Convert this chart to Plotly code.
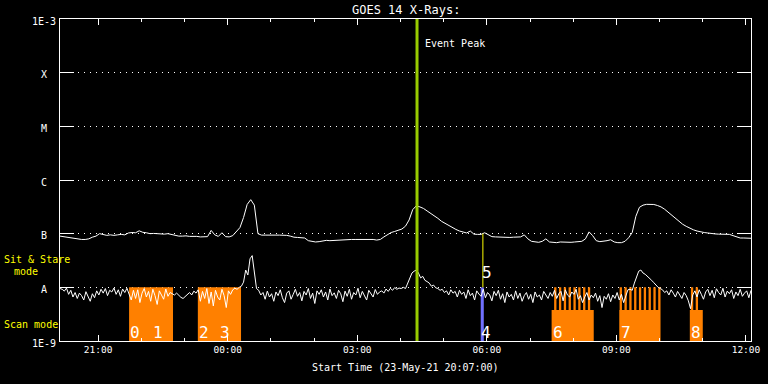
import numpy as np
import pandas as pd
import plotly.graph_objects as go

# ---------------- data ----------------
start_time = "2021-05-23 20:07:00"
end_time = "2021-05-24 12:07:00"

# GOES 1-8 A channel, 5-minute samples, units of 1e-7 W/m^2
long_cadence_min = 5
long_flux_e7 = [
    0.90, 0.88, 0.84, 0.82, 0.82, 0.80, 0.78, 0.78, 0.80, 0.86,
    0.90, 1.00, 0.95, 0.93, 0.95, 0.93, 0.95, 0.97, 0.95, 1.03,
    1.05, 1.04, 1.13, 1.06, 1.04, 1.00, 1.01, 0.99, 1.00, 0.98,
    1.00, 0.97, 0.92, 0.90, 0.90, 0.91, 0.89, 0.90, 0.89, 0.87,
    0.87, 0.88, 1.15, 0.95, 0.89, 1.04, 0.88, 0.87, 0.92, 1.10,
    1.30, 2.00, 3.50, 4.30, 3.40, 1.00, 0.94, 0.94, 0.95, 0.93,
    0.94, 0.94, 0.95, 0.93, 0.90, 0.86, 0.85, 0.85, 0.83, 0.74,
    0.71, 0.70, 0.71, 0.73, 0.75, 0.74, 0.75, 0.76, 0.76, 0.77,
    0.77, 0.78, 0.78, 0.78, 0.79, 0.78, 0.79, 0.78, 0.76, 0.78,
    0.87, 0.97, 1.05, 1.10, 1.15, 1.22, 1.38, 1.80, 2.80, 3.30,
    3.15, 2.95, 2.65, 2.40, 2.15, 1.93, 1.70, 1.55, 1.40, 1.28,
    1.20, 1.12, 1.06, 1.03, 1.12, 0.98, 0.97, 0.97, 1.04, 0.95,
    0.88, 0.87, 0.86, 0.87, 0.86, 0.85, 0.86, 0.87, 0.87, 0.95,
    0.80, 0.72, 0.70, 0.69, 0.72, 0.80, 0.70, 0.69, 0.68, 0.70,
    0.69, 0.68, 0.69, 0.70, 0.71, 0.72, 0.80, 1.08, 0.92, 0.74,
    0.71, 0.72, 0.74, 0.77, 0.70, 0.68, 0.68, 0.72, 0.84, 1.05,
    2.10, 3.10, 3.40, 3.52, 3.55, 3.50, 3.35, 3.15, 2.85, 2.50,
    2.15, 1.88, 1.68, 1.50, 1.37, 1.26, 1.18, 1.12, 1.07, 1.05,
    1.03, 1.00, 0.99, 0.98, 0.97, 0.98, 0.97, 0.92, 0.86, 0.83,
    0.83, 0.82, 0.82,
]

# GOES 0.5-4 A channel, 3-minute samples, units of 1e-8 W/m^2
short_cadence_min = 3
short_flux_e8 = [
    0.95, 0.92, 0.85, 0.97, 0.74, 0.88, 0.66, 0.80, 0.62, 0.78,
    0.70, 0.58, 0.83, 0.68, 0.55, 0.76, 0.64, 0.86, 0.72, 0.92,
    0.78, 0.95, 0.70, 0.88, 0.82, 0.97, 0.74, 0.90, 0.68, 0.93,
    0.80, 0.96, 0.72, 0.58, 0.88, 0.62, 0.90, 0.52, 0.78, 0.95,
    0.66, 0.84, 0.55, 0.92, 0.70, 0.48, 0.86, 0.74, 0.60, 0.93,
    0.68, 0.80, 0.75, 0.72, 0.78, 0.70, 0.65, 0.62, 0.68, 0.74,
    0.80, 0.72, 0.85, 0.78, 0.90, 0.55, 0.84, 0.62, 0.95, 0.50,
    0.82, 0.45, 0.88, 0.66, 0.58, 0.92, 0.70, 0.42, 0.86, 0.74,
    0.90, 0.96, 0.92, 1.00, 1.05, 1.25, 2.10, 1.70, 3.40, 3.90, 1.90, 0.95,
    0.88, 0.72, 0.80, 0.60, 0.85, 0.66, 0.76, 0.55,
    0.82, 0.70, 0.90, 0.64, 0.52, 0.78, 0.86, 0.60, 0.74, 0.92,
    0.68, 0.80, 0.56, 0.84, 0.72, 0.95, 0.62, 0.78, 0.50, 0.86,
    0.74, 0.90, 0.66, 0.82, 0.58, 0.93, 0.70, 0.79, 0.62, 0.88,
    0.76, 0.54, 0.85, 0.68, 0.92, 0.60, 0.80, 0.72, 0.96, 0.64,
    0.84, 0.70, 0.58, 0.88, 0.76, 0.66, 0.91, 0.74, 0.82, 0.86,
    0.78, 0.93, 0.84, 0.96, 0.88, 0.99, 0.92, 0.97,
    0.95, 1.00, 0.95, 1.20, 1.45, 1.85, 2.00, 2.10, 1.85, 1.50,
    1.60, 1.35, 1.28, 1.20, 1.05, 1.10, 0.98, 0.95, 0.88,
    0.92, 0.80, 0.86, 0.72, 0.90, 0.78, 0.84, 0.66, 0.88, 0.74,
    0.82, 0.62, 0.90, 0.70, 0.78, 0.58, 0.86, 0.75, 0.68, 0.92,
    0.64, 0.80, 0.72, 0.56, 0.84, 0.70, 0.88, 0.60, 0.76, 0.52,
    0.82, 0.66, 0.74, 0.58, 0.86, 0.62, 0.78, 0.55, 0.70, 0.80,
    0.60, 0.74, 0.52, 0.82, 0.66, 0.72, 0.58, 0.84, 0.70, 0.62,
    0.80, 0.68, 0.88, 0.62, 0.76, 0.84, 0.56, 0.90, 0.72, 0.66,
    0.82, 0.74, 0.92, 0.60, 0.70, 0.52, 0.66, 0.80, 0.58, 0.72,
    0.64, 0.78, 0.55, 0.70, 0.42, 0.68, 0.60, 0.76, 0.54, 0.72,
    0.62, 0.80, 0.58, 0.74, 0.52,
    0.70, 0.90, 0.92, 0.88, 1.20,
    1.60, 2.00, 2.10, 1.85, 1.75, 1.62, 1.48, 1.35, 1.22, 1.10, 1.00, 0.95, 0.90, 0.80,
    0.86, 0.72, 0.90, 0.78, 0.66, 0.84, 0.74, 0.62, 0.80, 0.70,
    0.56, 0.40, 0.72, 0.86, 0.66, 0.90, 0.74, 0.60, 0.82, 0.92,
    0.70, 0.88, 0.64, 0.94, 0.80, 0.72, 0.96, 0.66, 0.85, 0.76,
    0.90, 0.62, 0.82, 0.70, 0.92, 0.68, 0.78, 0.86, 0.64, 0.88,
]

# Y axis levels and labels
level_values = [1e-9, 1e-8, 1e-7, 1e-6, 1e-5, 1e-4, 1e-3]
level_labels = ["1E-9", "A", "B", "C", "M", "X", "1E-3"]

# Scan-mode blocks (orange)
scan_block_start = ["2021-05-23 21:43:00", "2021-05-23 23:18:30", "2021-05-24 07:30:00",
                    "2021-05-24 09:04:00", "2021-05-24 10:42:00"]
scan_block_end = ["2021-05-23 22:44:00", "2021-05-24 00:18:30", "2021-05-24 08:28:30",
                  "2021-05-24 10:00:30", "2021-05-24 11:00:00"]
scan_block_top = [1e-8, 1e-8, 3.8e-9, 3.8e-9, 3.8e-9]

# Short scan stripes within the later blocks
stripe_start = ["2021-05-24 07:33:30", "2021-05-24 07:40:12", "2021-05-24 07:46:54",
                "2021-05-24 07:53:36", "2021-05-24 08:00:18", "2021-05-24 08:07:00",
                "2021-05-24 08:13:42", "2021-05-24 08:20:24",
                "2021-05-24 09:04:30", "2021-05-24 09:11:12", "2021-05-24 09:17:54",
                "2021-05-24 09:24:36", "2021-05-24 09:31:18", "2021-05-24 09:38:00",
                "2021-05-24 09:44:42", "2021-05-24 09:51:24", "2021-05-24 09:58:06",
                "2021-05-24 10:43:30", "2021-05-24 10:50:12"]
stripe_minutes = 3.2
stripe_top = 1e-8

# Sit & stare observation (blue) and its marker (yellow)
stare_start = "2021-05-24 05:51:30"
stare_end = "2021-05-24 05:55:45"
stare_marker_time = "2021-05-24 05:54:30"

# Observation number labels
obs_labels = ["0", "1", "2", "3", "4", "5", "6", "7", "8"]
obs_times = ["2021-05-23 21:44:00", "2021-05-23 22:16:00", "2021-05-23 23:19:30",
             "2021-05-23 23:49:00", "2021-05-24 05:52:30", "2021-05-24 05:53:30",
             "2021-05-24 07:31:30", "2021-05-24 09:06:30", "2021-05-24 10:44:00"]
obs_levels = [1.47e-9, 1.47e-9, 1.47e-9, 1.47e-9, 1.47e-9, 1.93e-8, 1.47e-9, 1.47e-9, 1.47e-9]

event_peak_time = "2021-05-24 04:23:00"

# ---------------- figure ----------------
FONT = "DejaVu Sans Mono"
ORANGE = "#ff8000"
t0 = pd.Timestamp(start_time)
t_long = t0 + pd.to_timedelta(np.arange(len(long_flux_e7)) * long_cadence_min, unit="min")
t_short = t0 + pd.to_timedelta(np.arange(len(short_flux_e8)) * short_cadence_min, unit="min")
long_flux = np.array(long_flux_e7) * 1e-7
short_flux = np.array(short_flux_e8) * 1e-8

fig = go.Figure()

# orange blocks
bx, by = [], []
for s, e, top in zip(scan_block_start, scan_block_end, scan_block_top):
    bx += [s, s, e, e, s, None]
    by += [1e-9, top, top, 1e-9, 1e-9, None]
for s in stripe_start:
    ts = pd.Timestamp(s)
    te = ts + pd.Timedelta(minutes=stripe_minutes)
    bx += [ts, ts, te, te, ts, None]
    by += [1e-9, stripe_top, stripe_top, 1e-9, 1e-9, None]
fig.add_trace(go.Scatter(x=bx, y=by, fill="toself", fillcolor=ORANGE, mode="lines",
                         line=dict(width=0, color=ORANGE), hoverinfo="skip", showlegend=False))

# blue sit & stare
fig.add_trace(go.Scatter(x=[stare_start, stare_start, stare_end, stare_end, stare_start],
                         y=[1e-9, 1e-8, 1e-8, 1e-9, 1e-9], fill="toself", fillcolor="#7070ff",
                         mode="lines", line=dict(width=0, color="#7070ff"), showlegend=False))

# light curves
fig.add_trace(go.Scatter(x=t_short, y=short_flux, mode="lines",
                         line=dict(color="white", width=1), showlegend=False))
fig.add_trace(go.Scatter(x=t_long, y=long_flux, mode="lines",
                         line=dict(color="white", width=1), showlegend=False))

# yellow marker
fig.add_trace(go.Scatter(x=[stare_marker_time, stare_marker_time], y=[1e-8, 1e-7], mode="lines",
                         line=dict(color="#ffff00", width=1), showlegend=False))

# event peak line
fig.add_trace(go.Scatter(x=[event_peak_time, event_peak_time], y=[1e-9, 1e-3], mode="lines",
                         line=dict(color="#99cc00", width=3), showlegend=False))

annotations = []
for lab, t, lv in zip(obs_labels, obs_times, obs_levels):
    annotations.append(dict(x=t, y=np.log10(lv), xref="x", yref="y", text=lab, showarrow=False,
                            xanchor="left", yanchor="middle", xshift=-2,
                            font=dict(family=FONT, size=16, color="white")))
for lab, lv in zip(level_labels, level_values):
    annotations.append(dict(x=(44 - 60) / 691, y=np.log10(lv), xref="paper", yref="y", text=lab,
                            showarrow=False, xanchor="center", yanchor="middle", yshift=-2,
                            font=dict(family=FONT, size=10, color="white")))
annotations += [
    dict(x=0.5, y=1, xref="paper", yref="paper", text="GOES 14 X-Rays:", showarrow=False,
         xanchor="center", yanchor="bottom", yshift=0, font=dict(family=FONT, size=12, color="white")),
    dict(x=0.5, y=0, xref="paper", yref="paper", text="Start Time (23-May-21 20:07:00)",
         showarrow=False, xanchor="center", yanchor="top", yshift=-19,
         font=dict(family=FONT, size=10, color="white")),
    dict(x=event_peak_time, y=-3.448, xref="x", yref="y", text="Event Peak", showarrow=False,
         xanchor="left", yanchor="middle", xshift=6, font=dict(family=FONT, size=10, color="white")),
    dict(x=(2 - 60) / 691, y=(341 - 259) / 322, xref="paper", yref="paper", text="Sit & Stare",
         showarrow=False, xanchor="left", yanchor="middle",
         font=dict(family=FONT, size=10, color="#ffff00")),
    dict(x=(12 - 60) / 691, y=(341 - 271) / 322, xref="paper", yref="paper", text="mode",
         showarrow=False, xanchor="left", yanchor="middle",
         font=dict(family=FONT, size=10, color="#ffff00")),
    dict(x=(2 - 60) / 691, y=(341 - 324) / 322, xref="paper", yref="paper", text="Scan mode",
         showarrow=False, xanchor="left", yanchor="middle",
         font=dict(family=FONT, size=10, color="#ffff00")),
]

fig.update_layout(
    width=768, height=384,
    margin=dict(l=60, r=17, t=19, b=43, autoexpand=False),
    paper_bgcolor="black", plot_bgcolor="black",
    font=dict(family=FONT, size=10, color="white"),
    annotations=annotations,
    showlegend=False,
)
fig.update_xaxes(
    type="date", range=[start_time, end_time], automargin=False,
    showline=True, linecolor="white", linewidth=1, mirror="ticks",
    ticks="inside", ticklen=6, tickwidth=1, tickcolor="white",
    tick0="2021-05-23 21:00:00", dtick=3 * 3600000, tickformat="%H:%M",
    tickfont=dict(family=FONT, size=9.5, color="white"),
    minor=dict(dtick=3600000, ticks="inside", ticklen=3, tickcolor="white", tickwidth=1, showgrid=False),
    showgrid=False, zeroline=False,
)
fig.update_yaxes(
    type="log", range=[-9, -3], automargin=False,
    showline=True, linecolor="white", linewidth=1, mirror="ticks",
    tickmode="array", tickvals=level_values, ticks="inside", ticklen=14, tickwidth=1,
    tickcolor="white", showticklabels=False,
    showgrid=True, gridcolor="white", gridwidth=1, griddash="1px,5px",
    zeroline=False,
)

fig.write_html(
    "out.html",
    config={"displayModeBar": False},
    post_script="document.body.style.margin='0';document.body.style.background='black';",
)
